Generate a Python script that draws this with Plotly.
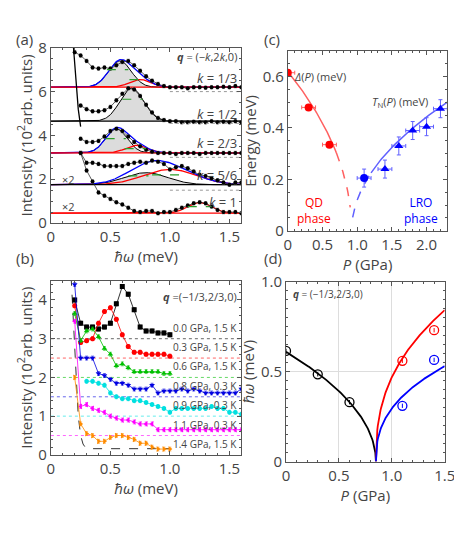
import numpy as np
import plotly.graph_objects as go

# ---------- panel (a) data ----------
xa = [round(0.2 + 0.05 * i, 2) for i in range(29)]
a_k13 = [7.8,7.65,7.4,7.1,7.05,7.1,7.05,7.2,7.35,7.4,7.2,6.95,6.7,6.5,6.35,6.25,6.2,6.2,6.2,6.15,6.2,6.2,6.18,6.2,6.2,6.22,6.2,6.25,6.2]
a_k12 = [None,5.36,5.2,5.1,5.1,5.15,5.3,5.6,5.9,6.15,6.1,5.8,5.4,5.05,4.8,4.7,4.65,4.65,4.6,4.6,4.62,4.6,4.6,4.65,4.6,4.62,4.6,4.65,4.6]
a_k23 = [None,3.85,3.7,3.7,3.75,3.95,4.2,4.3,4.2,3.95,3.7,3.5,3.35,3.25,3.2,3.2,3.2,3.15,3.2,3.2,3.2,3.15,3.2,3.2,3.2,3.2,3.2,3.2,3.2]
a_k56 = [None,3.2,2.75,2.75,2.7,2.6,2.6,2.6,2.6,2.7,2.75,2.8,2.75,2.85,2.8,2.7,2.45,2.55,2.6,2.5,2.35,2.2,2.15,2.05,1.95,1.85,1.75,1.85,1.85]
a_k1 = [None,3.2,2.4,1.9,1.4,1.25,1.1,0.95,0.85,0.7,0.55,0.5,0.55,0.55,0.45,0.5,0.5,0.6,0.7,0.8,0.9,0.95,0.9,0.75,0.6,0.5,0.5,0.5,0.45]
a_series = [a_k13, a_k12, a_k23, a_k56, a_k1]
a_base = [6.2, 4.65, 3.2, 1.75, 0.45]
a_labels = ["<i>k</i> = 1/3", "<i>k</i> = 1/2", "<i>k</i> = 2/3", "<i>k</i> = 5/6", "<i>k</i> = 1"]
# Gaussian fit parameters (center, amplitude, sigma): first (black) and second (red) modes
a_g1 = [(0.58, 1.2, 0.095), (0.68, 1.5, 0.1), (0.55, 1.1, 0.09), (0.8, 0.55, 0.18), None]
a_g2 = [(0.75, 0.35, 0.09), None, (0.72, 0.35, 0.09), (1.0, 0.7, 0.22), (1.25, 0.48, 0.1)]
a_dotted = [6.0, 4.55, 3.0, 1.5]
a_width_y = [7.0, 5.65, 3.85, 2.15, 0.75]
a_width_x = [(0.47, 0.65), (0.6, 0.77), (0.46, 0.63), (0.65, 0.82), (1.15, 1.35)]
a_width2 = [(0.66, 0.8, 6.55), None, (0.62, 0.8, 3.4), (0.85, 1.12, 2.2), None]

# ---------- panel (b) data ----------
xb = [round(0.2 + 0.05 * i, 2) for i in range(29)]
b_00 = [4.0,3.4,3.3,3.3,3.25,3.3,3.4,3.9,4.35,4.15,3.75,3.3,3.2,3.2,3.15,3.15,3.1]
b_03 = [3.85,2.9,2.95,3.0,3.4,3.7,3.8,3.5,3.1,2.8,2.65,2.65,2.6,2.6,2.6,2.6,2.55]
b_06 = [3.65,2.95,3.2,3.25,3.05,2.75,2.6,2.3,2.35,2.25,2.15,2.15,2.15,2.15,2.15,2.1,2.1]
b_08 = [4.4,2.5,2.5,2.5,2.1,2.05,1.95,1.85,1.85,1.8,1.7,1.7,1.7,1.8,1.6,1.65,1.65,1.65,1.7,1.65,1.7,1.65,1.6,1.6,1.6,1.6,1.6,1.6,1.7]
b_09 = [None,None,1.9,1.9,1.85,1.8,1.6,1.5,1.45,1.45,1.4,1.4,1.35,1.3,1.25,1.2,1.1,1.2,1.2,1.2,1.2,1.2,1.2,1.25,1.2,1.2,1.1,1.1,1.05]
b_11 = [3.45,1.25,1.3,1.2,1.15,1.1,1.0,0.95,0.9,0.9,0.85,0.8,0.8,0.8,0.65,0.65,0.65,0.65,0.65,0.65,0.65,0.65,0.65,0.65,0.65,0.65,0.65,0.65,0.65]
b_14 = [2.0,0.8,0.55,0.5,0.35,0.35,0.45,0.5,0.5,0.45,0.4,0.3,0.3,0.2,0.15,0.15,0.15]
b_series = [b_00, b_03, b_06, b_08, b_09, b_11, b_14]
b_colors = ["#000000", "#ff0000", "#00c000", "#0000e0", "#00e0e0", "#ff00ff", "#ff8c00"]
b_symbols = ["square", "circle", "triangle-up", "triangle-down", "hexagon", "triangle-left", "triangle-right"]
b_labels = ["0.0 GPa, 1.5 K", "0.3 GPa, 1.5 K", "0.6 GPa, 1.5 K", "0.8 GPa, 0.3 K", "0.9 GPa, 0.3 K", "1.1 GPa, 0.3 K", "1.4 GPa, 1.5 K"]
b_base = [3.0, 2.5, 2.0, 1.5, 1.0, 0.5]
b_label_y = [3.05, 2.55, 2.05, 1.55, 1.05, 0.55, 0.05]
b_res_x = [0.17, 0.19, 0.21, 0.23, 0.25, 0.27, 0.29, 0.32, 1.0]
b_res_y = [4.6, 3.4, 2.0, 1.0, 0.5, 0.28, 0.19, 0.16, 0.16]

# ---------- panel (c) data ----------
c_gap_P = [0.0, 0.3, 0.6]
c_gap_E = [0.615, 0.48, 0.335]
c_tn_P = [1.1, 1.4, 1.6, 1.8, 2.0, 2.2]
c_tn_E = [0.205, 0.24, 0.33, 0.39, 0.405, 0.475]
c_Pc = 0.92

# ---------- panel (d) data ----------
d_blk_P = [0.0, 0.3, 0.6]; d_blk_E = [0.615, 0.485, 0.33]
d_red_P = [1.1, 1.4]; d_red_E = [0.56, 0.73]
d_blu_P = [1.1, 1.4]; d_blu_E = [0.31, 0.565]
d_Pc = 0.85

fig = go.Figure()
G = lambda x, p: p[1] * np.exp(-(x - p[0]) ** 2 / (2 * p[2] ** 2))
xf = np.linspace(0, 1.6, 321)

# panel (a)
for i, ys in enumerate(a_series):
    b = a_base[i]
    tot = np.zeros_like(xf)
    if a_g1[i]:
        g1 = G(xf, a_g1[i]); tot += g1
        fig.add_trace(go.Scatter(x=np.concatenate([xf, xf[::-1]]), y=np.concatenate([b + g1, np.full_like(xf, b)]),
                                 xaxis="x", yaxis="y", mode="none", fill="toself", fillcolor="rgba(205,205,205,0.7)"))
        fig.add_trace(go.Scatter(x=xf, y=b + g1, xaxis="x", yaxis="y", mode="lines",
                                 line=dict(color="black", width=1)))
    if a_g2[i]:
        g2 = G(xf, a_g2[i]); tot += g2
        fig.add_trace(go.Scatter(x=xf, y=b + g2, xaxis="x", yaxis="y", mode="lines", line=dict(color="red", width=1.3)))
    if a_g1[i] and a_g2[i]:
        fig.add_trace(go.Scatter(x=xf, y=b + tot, xaxis="x", yaxis="y", mode="lines", line=dict(color="blue", width=1.3)))
    base_col = ["red", "black", "red", "black", "red"][i]
    fig.add_trace(go.Scatter(x=[0, 1.6], y=[b, b], xaxis="x", yaxis="y", mode="lines", line=dict(color=base_col, width=1.3)))
    fig.add_trace(go.Scatter(x=xa, y=ys, xaxis="x", yaxis="y", mode="lines+markers", connectgaps=True,
                             line=dict(color="#333", width=0.8), marker=dict(color="black", size=4),
                             error_y=dict(type="constant", value=0.08, color="#666", thickness=0.6, width=1.5)))
    wx = a_width_x[i]
    fig.add_trace(go.Scatter(x=[wx[0], wx[1]], y=[a_width_y[i]] * 2, xaxis="x", yaxis="y", mode="lines",
                             line=dict(color="#2a9d2a", dash="dash", width=1.2)))
    if a_width2[i]:
        w = a_width2[i]
        fig.add_trace(go.Scatter(x=[w[0], w[1]], y=[w[2]] * 2, xaxis="x", yaxis="y", mode="lines",
                                 line=dict(color="#2a9d2a", dash="dash", width=1.2)))
for yd in a_dotted:
    fig.add_trace(go.Scatter(x=[1.0, 1.6], y=[yd, yd], xaxis="x", yaxis="y", mode="lines",
                             line=dict(color="#999", dash="dot", width=1)))
fig.add_trace(go.Scatter(x=[0.19, 0.21, 0.23, 0.25], y=[8.0, 6.5, 5.2, 4.4], xaxis="x", yaxis="y", mode="lines",
                         line=dict(color="black", width=1.3)))

# panel (b)
for i, yb in enumerate(b_base):
    fig.add_trace(go.Scatter(x=[0, 1.6], y=[yb, yb], xaxis="x2", yaxis="y2", mode="lines", opacity=0.6,
                             line=dict(color=b_colors[i], dash="dot", width=1)))
fig.add_trace(go.Scatter(x=b_res_x, y=b_res_y, xaxis="x2", yaxis="y2", mode="lines",
                         line=dict(color="#333", dash="dash", width=1)))
for i, ys in enumerate(b_series):
    fig.add_trace(go.Scatter(x=xb[:len(ys)], y=ys, xaxis="x2", yaxis="y2", mode="lines+markers", connectgaps=True,
                             line=dict(color=b_colors[i], width=0.8),
                             marker=dict(color=b_colors[i], symbol=b_symbols[i], size=5),
                             error_y=dict(type="constant", value=0.05, color=b_colors[i], thickness=0.6, width=1.5)))

# panel (c)
pr_s = np.linspace(0, 0.7, 60); pr_d = np.linspace(0.7, 0.9, 20)
gap = lambda p: 0.62 * np.sqrt(np.clip(1 - p / c_Pc, 0, None))
tn = lambda p: 0.426 * np.sqrt(np.clip(p - c_Pc, 0, None))
fig.add_trace(go.Scatter(x=pr_s, y=gap(pr_s), xaxis="x3", yaxis="y3", mode="lines", line=dict(color="#ff6060", width=1.5)))
fig.add_trace(go.Scatter(x=pr_d, y=gap(pr_d), xaxis="x3", yaxis="y3", mode="lines", line=dict(color="#ff6060", width=1.5, dash="dash")))
pb_d = np.linspace(0.935, 1.2, 20); pb_s = np.linspace(1.2, 2.3, 60)
fig.add_trace(go.Scatter(x=pb_d, y=tn(pb_d), xaxis="x3", yaxis="y3", mode="lines", line=dict(color="#6060ff", width=1.5, dash="dash")))
fig.add_trace(go.Scatter(x=pb_s, y=tn(pb_s), xaxis="x3", yaxis="y3", mode="lines", line=dict(color="#6060ff", width=1.5)))
fig.add_trace(go.Scatter(x=c_gap_P, y=c_gap_E, xaxis="x3", yaxis="y3", mode="markers",
                         marker=dict(color="red", size=8),
                         error_x=dict(type="constant", value=0.1, color="#ff6060", thickness=1, width=2)))
fig.add_trace(go.Scatter(x=c_tn_P[:1], y=c_tn_E[:1], xaxis="x3", yaxis="y3", mode="markers",
                         marker=dict(color="blue", size=8),
                         error_x=dict(type="constant", value=0.1, color="#6060ff", thickness=1, width=2),
                         error_y=dict(type="constant", value=0.035, color="#6060ff", thickness=1, width=2)))
fig.add_trace(go.Scatter(x=c_tn_P[1:], y=c_tn_E[1:], xaxis="x3", yaxis="y3", mode="markers",
                         marker=dict(color="blue", size=8, symbol="triangle-up"),
                         error_x=dict(type="constant", value=0.1, color="#6060ff", thickness=1, width=2),
                         error_y=dict(type="constant", value=0.035, color="#6060ff", thickness=1, width=2)))

# panel (d)
pk = np.linspace(0, d_Pc, 150); pl = np.linspace(d_Pc, 1.5, 150)
fig.add_trace(go.Scatter(x=pk, y=0.61 * np.sqrt(1 - pk / d_Pc), xaxis="x4", yaxis="y4", mode="lines", line=dict(color="black", width=1.8)))
fig.add_trace(go.Scatter(x=pl, y=1.0 * (pl - d_Pc) ** 0.4, xaxis="x4", yaxis="y4", mode="lines", line=dict(color="red", width=1.8)))
fig.add_trace(go.Scatter(x=pl, y=0.63 * (pl - d_Pc) ** 0.4, xaxis="x4", yaxis="y4", mode="lines", line=dict(color="blue", width=1.8)))
for P, E, col in [(d_blk_P, d_blk_E, "black"), (d_red_P, d_red_E, "red"), (d_blu_P, d_blu_E, "blue")]:
    fig.add_trace(go.Scatter(x=P, y=E, xaxis="x4", yaxis="y4", mode="markers",
                             marker=dict(color="rgba(0,0,0,0)", size=9, line=dict(color=col, width=1.3)),
                             error_y=dict(type="constant", value=0.012, color=col, thickness=1, width=0)))

font = dict(family="Open Sans, DejaVu Sans", color="#444")
ax = dict(showline=True, linecolor="#555", mirror="ticks", ticks="inside", ticklen=4, tickcolor="#555",
          zeroline=False, showgrid=False, tickfont=dict(size=15, color="#444"), minor=dict(ticks="inside", ticklen=2, tickcolor="#555"))
ttl = lambda t: dict(text=t, font=dict(size=15, color="#444"), standoff=2)
fig.update_layout(
    width=462, height=534, margin=dict(l=0, r=0, t=0, b=0), showlegend=False,
    paper_bgcolor="white", plot_bgcolor="white", font=font,
    xaxis=dict(ax, domain=[0.087, 0.513], range=[0, 1.6], tickvals=[0, 0.5, 1.0, 1.5], ticktext=["0", "0.5", "1.0", "1.5"],
               anchor="y", title=ttl("<i>ħω</i> (meV)")),
    yaxis=dict(ax, domain=[0.603, 0.944], range=[0, 8], dtick=2, anchor="x", title=ttl("Intensity (10<sup>2</sup>arb. units)")),
    xaxis2=dict(ax, domain=[0.087, 0.513], range=[0, 1.6], tickvals=[0, 0.5, 1.0, 1.5], ticktext=["0", "0.5", "1.0", "1.5"],
                anchor="y2", title=ttl("<i>ħω</i> (meV)")),
    yaxis2=dict(ax, domain=[0.152, 0.491], range=[0, 4.5], dtick=1, anchor="x2", title=ttl("Intensity (10<sup>2</sup>arb. units)")),
    xaxis3=dict(ax, domain=[0.617, 0.974], range=[0, 2.3], tickvals=[0, 0.5, 1.0, 1.5, 2.0], ticktext=["0", "0.5", "1.0", "1.5", "2.0"],
                anchor="y3", title=ttl("<i>P</i> (GPa)")),
    yaxis3=dict(ax, domain=[0.588, 0.938], range=[0, 0.7], tickvals=[0, 0.2, 0.4, 0.6], ticktext=["0", "0.2", "0.4", "0.6"],
                anchor="x3", title=ttl("Energy (meV)")),
    xaxis4=dict(ax, domain=[0.613, 0.968], range=[0, 1.5], tickvals=[0, 0.5, 1.0, 1.5], ticktext=["0", "0.5", "1.0", "1.5"],
                showgrid=True, gridcolor="#ddd", anchor="y4", title=ttl("<i>P</i> (GPa)")),
    yaxis4=dict(ax, domain=[0.139, 0.489], range=[0, 1.0], tickvals=[0, 0.5, 1.0], ticktext=["0", "0.5", "1.0"],
                showgrid=True, gridcolor="#ddd", anchor="x4", title=ttl("<i>ħω</i> (meV)")),
)

ann = []
def A(x, y, t, xr="x", yr="y", size=11, color="#444", xa_="right", **k):
    ann.append(dict(x=x, y=y, xref=xr, yref=yr, text=t, showarrow=False, xanchor=xa_, font=dict(size=size, color=color), **k))
for p, x, y in [("(a)", 0.005, 0.985), ("(b)", 0.005, 0.535), ("(c)", 0.56, 0.985), ("(d)", 0.56, 0.535)]:
    ann.append(dict(x=x, y=y, xref="paper", yref="paper", text=p, showarrow=False, xanchor="left", font=dict(size=15, color="#444")))
A(1.58, 7.6, "<b><i>q</i></b> = (−<i>k</i>,2<i>k</i>,0)", size=11)
lab_y = [6.6, 5.0, 3.65, 2.2, 0.95]
for t, y in zip(a_labels, lab_y):
    A(1.58, y, t, size=13)
A(0.15, 2.0, "×2", size=11, xa_="center")
A(0.15, 0.75, "×2", size=11, xa_="center")
A(1.58, 4.1, "<b><i>q</i></b> =(−1/3,2/3,0)", xr="x2", yr="y2", size=11)
for t, y in zip(b_labels, b_label_y):
    A(1.58, y, t, xr="x2", yr="y2", size=10, yanchor="bottom")
A(0.06, 0.6, "<i>Δ</i>(<i>P</i>) (meV)", xr="x3", yr="y3", size=11, xa_="left")
A(2.05, 0.5, "<i>T</i><sub>N</sub>(<i>P</i>) (meV)", xr="x3", yr="y3", size=11)
A(0.1, 0.08, "QD<br>phase", xr="x3", yr="y3", size=12, color="red", xa_="left")
A(2.2, 0.08, "LRO<br>phase", xr="x3", yr="y3", size=12, color="blue")
A(0.05, 0.93, "<b><i>q</i></b> = (−1/3,2/3,0)", xr="x4", yr="y4", size=10, xa_="left")
fig.update_layout(annotations=ann)
fig.write_html("out.html")
